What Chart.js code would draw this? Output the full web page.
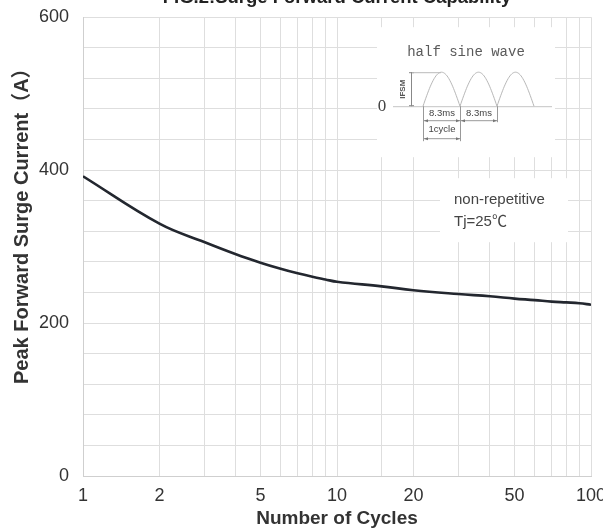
<!DOCTYPE html>
<html><head><meta charset="utf-8">
<script src="https://cdn.jsdelivr.net/npm/chart.js@4/dist/chart.umd.min.js"></script>
<style>
html,body{margin:0;padding:0;width:603px;height:531px;overflow:hidden;background:#fff;}
#wrap{position:absolute;left:0;top:-10px;width:620px;height:541px;}
canvas{display:block;}
</style></head><body>
<div id="wrap"><canvas id="c" width="620" height="541" style="width:620px;height:541px"></canvas></div>
<script>
// ---- data ----
const cycles  = [1, 2, 3, 4, 5, 6, 7, 8, 9, 10, 15, 20, 30, 40, 50, 60, 70, 80, 90, 100];
const current = [392, 330, 306, 290, 279, 271, 265, 260.5, 257, 254, 248, 243, 238, 235, 232, 230, 228, 227, 226, 224];
const xTickLabels = [1, 2, 5, 10, 20, 50, 100];
const yTickLabels = [0, 200, 400, 600];
const titleText = 'FIG.2:Surge Forward Current Capability';
const xTitle = 'Number of Cycles';
const yTitle = 'Peak Forward Surge Current（A）';
const noteLines = ['non-repetitive', 'Tj=25℃'];
const waveTitle = 'half sine wave';
const waveLabels = {zero: '0', amp: 'IFSM', half: '8.3ms', cycle: '1cycle'};

const SANS = "'Liberation Sans', Arial, 'Noto Sans CJK SC', sans-serif";
const GRID = '#dedede';

function arrowLine(ctx, x1, x2, y) {
  ctx.beginPath(); ctx.moveTo(x1, y); ctx.lineTo(x2, y); ctx.stroke();
  ctx.beginPath();
  ctx.moveTo(x1, y); ctx.lineTo(x1 + 4, y - 1.5); ctx.lineTo(x1 + 4, y + 1.5); ctx.closePath();
  ctx.moveTo(x2, y); ctx.lineTo(x2 - 4, y - 1.5); ctx.lineTo(x2 - 4, y + 1.5); ctx.closePath();
  ctx.fill();
}

const insetPlugin = {
  id: 'inset',
  beforeDatasetsDraw(chart) {
    const ctx = chart.ctx, a = chart.chartArea;
    const L = a.left, T = a.top;
    ctx.save();
    ctx.fillStyle = '#fff';
    ctx.fillRect(L + 294, T + 10, 178, 130);
    ctx.fillRect(L + 357, T + 161, 128, 64);

    ctx.fillStyle = '#5a5a5a';
    ctx.font = "14px 'Liberation Mono', 'Courier New', monospace";
    ctx.textAlign = 'center'; ctx.textBaseline = 'middle';
    ctx.fillText(waveTitle, L + 383, T + 35);

    const base = T + 89, top = T + 55, x0 = L + 340, w = 37;
    ctx.strokeStyle = '#c4c4c4'; ctx.lineWidth = 1;
    ctx.beginPath(); ctx.moveTo(L + 310, base + 0.5); ctx.lineTo(L + 469, base + 0.5); ctx.stroke();
    ctx.strokeStyle = '#b8b8b8';
    for (let i = 0; i < 3; i++) {
      ctx.beginPath();
      for (let k = 0; k <= 40; k++) {
        const t = k / 40;
        const x = x0 + w * i + w * t, y = base - (base - top) * Math.sin(Math.PI * t);
        if (k === 0) ctx.moveTo(x, y); else ctx.lineTo(x, y);
      }
      ctx.stroke();
    }
    ctx.strokeStyle = '#888';
    ctx.beginPath();
    ctx.moveTo(L + 328.5, top); ctx.lineTo(L + 328.5, base);
    ctx.moveTo(L + 326, top + 0.5); ctx.lineTo(L + 331, top + 0.5);
    ctx.moveTo(L + 326, base - 0.5); ctx.lineTo(L + 331, base - 0.5);
    ctx.stroke();
    ctx.strokeStyle = '#bbb';
    ctx.beginPath(); ctx.moveTo(L + 329, top + 0.5); ctx.lineTo(L + 358, top + 0.5); ctx.stroke();
    ctx.fillStyle = '#555';
    ctx.save();
    ctx.translate(L + 320, T + 72); ctx.rotate(-Math.PI / 2);
    ctx.font = "bold 8px " + SANS;
    ctx.fillText(waveLabels.amp, 0, 0);
    ctx.restore();
    ctx.font = "17px 'Liberation Serif', 'Times New Roman', serif";
    ctx.fillStyle = '#444';
    ctx.fillText(waveLabels.zero, L + 299, T + 89);

    ctx.strokeStyle = '#999';
    ctx.beginPath();
    ctx.moveTo(L + 340.5, base); ctx.lineTo(L + 340.5, T + 124);
    ctx.moveTo(L + 377.5, base); ctx.lineTo(L + 377.5, T + 124);
    ctx.moveTo(L + 414.5, base); ctx.lineTo(L + 414.5, T + 105);
    ctx.stroke();
    ctx.fillStyle = '#777';
    arrowLine(ctx, L + 341, L + 377, T + 103.5);
    arrowLine(ctx, L + 378, L + 414, T + 103.5);
    arrowLine(ctx, L + 341, L + 377, T + 121.5);
    ctx.fillStyle = '#444';
    ctx.font = "9.5px " + SANS;
    ctx.fillText(waveLabels.half, L + 359, T + 96);
    ctx.fillText(waveLabels.half, L + 396, T + 96);
    ctx.fillText(waveLabels.cycle, L + 359, T + 112);

    ctx.fillStyle = '#444';
    ctx.font = "15px " + SANS;
    ctx.textAlign = 'left';
    ctx.fillText(noteLines[0], L + 371, T + 183);
    ctx.fillText(noteLines[1], L + 371, T + 205);
    ctx.restore();
  },
  afterDraw(chart) {
    const ctx = chart.ctx, a = chart.chartArea;
    ctx.save();
    ctx.translate(22, a.top + 204);
    ctx.rotate(-Math.PI / 2);
    ctx.fillStyle = '#333';
    ctx.font = "bold 20px " + SANS;
    ctx.textAlign = 'center'; ctx.textBaseline = 'middle';
    ctx.fillText(yTitle, 0, 0);
    ctx.restore();
  }
};

new Chart(document.getElementById('c'), {
  type: 'line',
  data: {
    datasets: [{
      data: cycles.map((c, i) => ({x: c, y: current[i]})),
      borderColor: '#23272f',
      borderWidth: 2.6,
      pointRadius: 0,
      tension: 0.4,
      fill: false
    }]
  },
  options: {
    responsive: false,
    animation: false,
    devicePixelRatio: 1,
    layout: {padding: {left: 0, right: 29, top: 0, bottom: 0}},
    plugins: {
      legend: {display: false},
      tooltip: {enabled: false},
      title: {
        display: true, text: titleText, color: '#222', fullSize: false,
        font: {family: SANS, size: 18.5, weight: 'bold'},
        padding: {top: -3, bottom: 8}
      }
    },
    scales: {
      x: {
        type: 'logarithmic', min: 1, max: 100,
        grid: {color: GRID, drawTicks: false, lineWidth: 1},
        border: {color: '#cfcfcf'},
        ticks: {
          autoSkip: false, maxRotation: 0, padding: 9, color: '#333',
          font: {family: SANS, size: 18},
          callback: (v) => xTickLabels.includes(v) ? String(v) : ''
        },
        title: {display: true, text: xTitle, color: '#333',
          font: {family: SANS, size: 19, weight: 'bold'}, padding: {top: 2, bottom: 1}},
        afterFit: (s) => { s.height = 55; }
      },
      y: {
        min: 0, max: 600,
        grid: {color: GRID, drawTicks: false},
        border: {color: '#cfcfcf'},
        ticks: {
          stepSize: 40, autoSkip: false, padding: 14, color: '#333',
          font: {family: SANS, size: 18},
          callback: (v) => yTickLabels.includes(v) ? String(v) : ''
        },
        afterFit: (s) => { s.width = 83; }
      }
    }
  },
  plugins: [insetPlugin]
});
</script>
</body></html>
